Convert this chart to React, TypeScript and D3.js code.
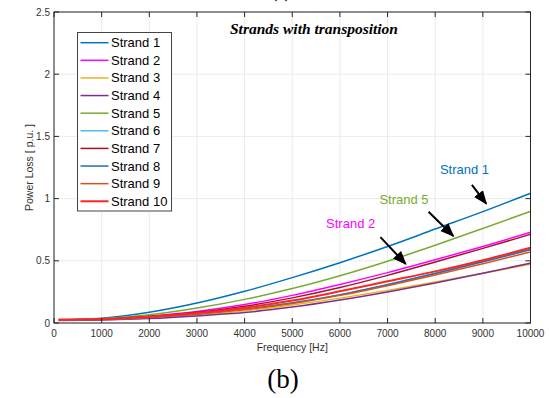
import React from "react";
import * as d3 from "d3";

const freqs = [100, 1000, 2000, 3000, 4000, 5000, 6000, 7000, 8000, 9000, 10000];
const strandNames = ["Strand 1", "Strand 2", "Strand 3", "Strand 4", "Strand 5", "Strand 6", "Strand 7", "Strand 8", "Strand 9", "Strand 10"];
const strandColors = ["#0072BD", "#FF00FF", "#EDB120", "#7E2F8E", "#77AC30", "#4DBEEE", "#A2142F", "#1F6FB4", "#D95319", "#FF2424"];
const s1 = [0.025, 0.038, 0.086, 0.16, 0.255, 0.365, 0.485, 0.615, 0.755, 0.895, 1.043];
const s2 = [0.025, 0.032, 0.056, 0.093, 0.148, 0.222, 0.31, 0.405, 0.508, 0.615, 0.729];
const s3 = [0.022, 0.027, 0.041, 0.064, 0.098, 0.145, 0.2, 0.262, 0.33, 0.4, 0.472];
const s4 = [0.02, 0.024, 0.036, 0.057, 0.084, 0.128, 0.185, 0.25, 0.322, 0.4, 0.482];
const s5 = [0.025, 0.034, 0.066, 0.12, 0.19, 0.277, 0.38, 0.497, 0.625, 0.76, 0.898];
const s6 = [0.025, 0.03, 0.046, 0.074, 0.112, 0.162, 0.228, 0.31, 0.4, 0.495, 0.592];
const s7 = [0.025, 0.031, 0.052, 0.086, 0.135, 0.202, 0.285, 0.383, 0.49, 0.6, 0.713];
const s8 = [0.025, 0.03, 0.045, 0.073, 0.11, 0.16, 0.226, 0.308, 0.398, 0.492, 0.589];
const s9 = [0.025, 0.03, 0.045, 0.072, 0.108, 0.157, 0.222, 0.3, 0.385, 0.477, 0.571];
const s10 = [0.028, 0.032, 0.05, 0.08, 0.122, 0.18, 0.255, 0.335, 0.415, 0.505, 0.605];
const seriesValues = [s1, s2, s3, s4, s5, s6, s7, s8, s9, s10];
const xTicks = [0, 1000, 2000, 3000, 4000, 5000, 6000, 7000, 8000, 9000, 10000];
const yTicks = [0, 0.5, 1, 1.5, 2, 2.5];

// annotations: label, strand index, text position (freq, value), arrow tail & head (freq, value)
const annotations = [
  { label: "Strand 1", idx: 0, tx: 8100, ty: 1.2, ax1: 8770, ay1: 1.11, ax2: 9070, ay2: 0.96 },
  { label: "Strand 5", idx: 4, tx: 6830, ty: 0.96, ax1: 7860, ay1: 0.895, ax2: 8380, ay2: 0.7 },
  { label: "Strand 2", idx: 1, tx: 5710, ty: 0.76, ax1: 6850, ay1: 0.69, ax2: 7380, ay2: 0.475 },
];

const W = 549, H = 398;
const L = 54, R = 530.5, T = 12, B = 323;

export default function App() {
  const x = d3.scaleLinear().domain([0, 10000]).range([L, R]);
  const y = d3.scaleLinear().domain([0, 2.5]).range([B, T]);
  const line = d3.line<number>().x((_, i) => x(freqs[i])).y((v) => y(v)).curve(d3.curveMonotoneX);
  const tickFont = "Arial, 'Liberation Sans', Helvetica, sans-serif";
  const axisColor = "#262626";
  const tl = 5;
  return (
    <svg width={W} height={H} style={{ position: "absolute", left: 0, top: 0, background: "#fff" }}>
      <defs>
        <marker id="ah" viewBox="0 0 10 10" refX="9" refY="5" markerWidth="7" markerHeight="7" orient="auto">
          <path d="M0,1 L10,5 L0,9 z" fill="#000" />
        </marker>
      </defs>
      <rect x={0} y={0} width={W} height={H} fill="#fff" />
      <text x={281} y={-4} fontFamily="'Liberation Serif', 'Times New Roman', serif" fontSize={26} textAnchor="middle" fill="#000">( )</text>
      {/* grid */}
      {xTicks.map((t) => (
        <line key={"gx" + t} x1={x(t)} x2={x(t)} y1={T} y2={B} stroke="#ebebeb" strokeWidth={1} />
      ))}
      {yTicks.map((t) => (
        <line key={"gy" + t} x1={L} x2={R} y1={y(t)} y2={y(t)} stroke="#ebebeb" strokeWidth={1} />
      ))}
      {/* lines */}
      {seriesValues.map((vals, i) => (
        <path key={"s" + i} d={line(vals) || ""} fill="none" stroke={strandColors[i]} strokeWidth={i === 9 ? 2 : 1.5} />
      ))}
      {/* box & ticks */}
      <rect x={L} y={T} width={R - L} height={B - T} fill="none" stroke={axisColor} strokeWidth={1} />
      {xTicks.map((t) => (
        <g key={"tx" + t}>
          <line x1={x(t)} x2={x(t)} y1={B} y2={B - tl} stroke={axisColor} />
          <line x1={x(t)} x2={x(t)} y1={T} y2={T + tl} stroke={axisColor} />
          <text x={x(t)} y={B + 14} fontFamily={tickFont} fontSize={10} fill="#333" textAnchor="middle">{t}</text>
        </g>
      ))}
      {yTicks.map((t) => (
        <g key={"ty" + t}>
          <line x1={L} x2={L + tl} y1={y(t)} y2={y(t)} stroke={axisColor} />
          <line x1={R} x2={R - tl} y1={y(t)} y2={y(t)} stroke={axisColor} />
          <text x={L - 4} y={y(t) + 3.5} fontFamily={tickFont} fontSize={10} fill="#333" textAnchor="end">{t}</text>
        </g>
      ))}
      <text x={(L + R) / 2} y={351} fontFamily={tickFont} fontSize={10.5} fill="#333" textAnchor="middle">Frequency [Hz]</text>
      <text transform={`translate(33,${(T + B) / 2}) rotate(-90)`} fontFamily={tickFont} fontSize={10.5} fill="#333" textAnchor="middle">Power Loss [ p.u. ]</text>
      <text x={314} y={34} fontFamily="'Liberation Serif', 'Times New Roman', serif" fontSize={15.5} fontWeight="bold" fontStyle="italic" textAnchor="middle" fill="#000">Strands with transposition</text>
      {/* annotations */}
      {annotations.map((a) => (
        <g key={a.label}>
          <text x={x(a.tx)} y={y(a.ty)} fontFamily={tickFont} fontSize={13} fill={strandColors[a.idx]}>{a.label}</text>
          <line x1={x(a.ax1)} y1={y(a.ay1)} x2={x(a.ax2)} y2={y(a.ay2)} stroke="#000" strokeWidth={2} markerEnd="url(#ah)" />
        </g>
      ))}
      {/* legend */}
      <rect x={77.5} y={32.5} width={94} height={178.5} fill="#fff" stroke="#444" strokeWidth={1} />
      {strandNames.map((n, i) => {
        const cy = 42.7 + i * 17.62;
        return (
          <g key={n}>
            <line x1={80.5} x2={108.5} y1={cy} y2={cy} stroke={strandColors[i]} strokeWidth={i === 9 ? 2 : 1.5} />
            <text x={111} y={cy + 4.5} fontFamily={tickFont} fontSize={13} fill="#000">{n}</text>
          </g>
        );
      })}
      <text x={283} y={388} fontFamily="'Liberation Serif', 'Times New Roman', serif" fontSize={27} textAnchor="middle" fill="#000">(b)</text>
    </svg>
  );
}
